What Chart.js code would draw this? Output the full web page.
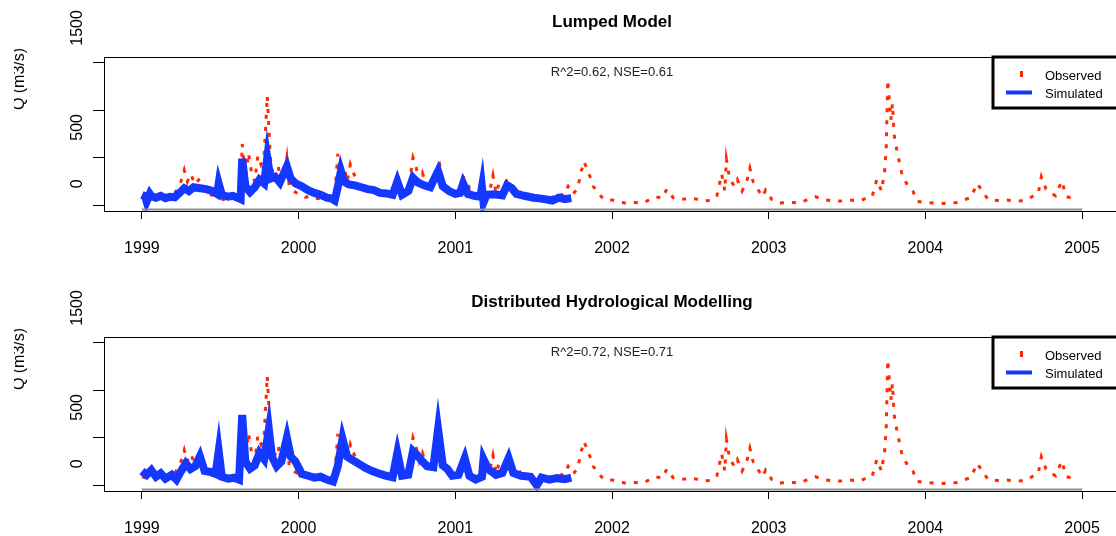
<!DOCTYPE html>
<html>
<head>
<meta charset="utf-8">
<script src="https://cdn.jsdelivr.net/npm/chart.js@4.4.1/dist/chart.umd.min.js"></script>
<style>
html, body { margin: 0; padding: 0; background: #fff; overflow: hidden; width: 1116px; height: 536px; }
.panel { position: absolute; left: 0; width: 1124px; height: 280px; }
</style>
</head>
<body>
<div class="panel" style="top:0"><canvas id="lumped" width="1124" height="280"></canvas></div>
<div class="panel" style="top:280px"><canvas id="distributed" width="1124" height="280"></canvas></div>
<script>
// Axes
const xTicks = [1999, 2000, 2001, 2002, 2003, 2004, 2005];
const yTicks = [0, 500, 1000, 1500];
const yTickLabels = ["0", "500", "", "1500"];

// Observed discharge (decimal year, m3/s)
const obsT = [1999.00,1999.04,1999.08,1999.12,1999.16,1999.20,1999.24,1999.27,1999.29,1999.31,1999.34,1999.37,1999.40,1999.44,1999.48,1999.52,1999.56,1999.60,1999.63,1999.64,1999.66,1999.68,1999.70,1999.72,1999.74,1999.76,1999.78,1999.80,1999.82,1999.84,1999.87,1999.89,1999.91,1999.925,1999.94,1999.97,
  2000.00,2000.04,2000.08,2000.12,2000.16,2000.20,2000.23,2000.25,2000.27,2000.29,2000.31,2000.33,2000.36,2000.39,2000.42,2000.45,2000.48,2000.52,2000.56,2000.60,2000.63,2000.66,2000.70,2000.73,2000.75,2000.77,2000.79,2000.82,2000.85,2000.88,2000.90,2000.93,2000.96,
  2001.00,2001.03,2001.05,2001.07,2001.10,2001.13,2001.16,2001.19,2001.22,2001.24,2001.26,2001.28,2001.30,2001.33,2001.36,2001.40,2001.43,2001.47,2001.51,2001.55,2001.58,2001.62,2001.66,2001.69,2001.72,2001.75,2001.78,2001.80,2001.82,2001.84,2001.86,2001.88,2001.91,2001.95,
  2002.00,2002.04,2002.08,2002.14,2002.20,2002.24,2002.28,2002.32,2002.35,2002.39,2002.44,2002.49,2002.54,2002.58,2002.63,2002.67,2002.70,2002.72,2002.73,2002.75,2002.78,2002.80,2002.83,2002.86,2002.88,2002.90,2002.93,2002.96,2002.98,
  2003.02,2003.07,2003.14,2003.20,2003.26,2003.30,2003.35,2003.40,2003.46,2003.52,2003.58,2003.63,2003.66,2003.69,2003.72,2003.74,2003.75,2003.76,2003.77,2003.78,2003.79,2003.80,2003.81,2003.83,2003.85,2003.87,2003.89,2003.92,2003.95,
  2004.00,2004.05,2004.12,2004.20,2004.25,2004.29,2004.33,2004.36,2004.40,2004.46,2004.52,2004.58,2004.64,2004.69,2004.72,2004.74,2004.77,2004.80,2004.83,2004.87,2004.90,2004.95];
const obsQ = [90,70,95,60,85,110,200,370,250,330,220,285,160,110,95,60,90,70,120,645,300,550,340,250,520,430,520,1150,500,280,410,200,340,500,200,150,
  115,85,95,70,80,60,90,540,260,400,250,430,300,190,150,200,140,120,125,130,315,110,150,500,400,250,340,180,150,390,430,200,125,
  120,110,300,270,140,90,60,120,150,315,125,230,140,275,150,120,160,100,80,70,60,90,130,100,200,120,170,330,460,390,300,200,130,60,
  55,40,25,30,25,60,90,75,170,80,60,75,65,45,50,105,330,150,485,290,200,270,150,250,390,250,170,90,160,
  60,25,30,25,70,90,60,50,45,55,45,80,90,270,150,360,600,1320,1100,900,1070,750,645,485,330,260,200,150,40,
  30,25,20,30,60,80,230,160,60,50,55,45,50,100,120,300,170,130,100,255,90,70];

// Simulated, lumped model
const lumpT = [1999.00,1999.02,1999.03,1999.05,1999.06,1999.09,1999.12,1999.15,1999.18,1999.21,1999.24,1999.27,1999.30,1999.33,1999.37,1999.41,1999.45,1999.48,1999.49,1999.51,1999.55,1999.58,1999.61,1999.63,1999.64,1999.66,1999.69,1999.72,1999.75,1999.78,1999.80,1999.82,1999.85,1999.88,1999.925,1999.95,1999.98,
  2000.02,2000.06,2000.10,2000.14,2000.18,2000.21,2000.23,2000.25,2000.27,2000.29,2000.32,2000.36,2000.40,2000.44,2000.48,2000.52,2000.56,2000.60,2000.63,2000.66,2000.70,2000.73,2000.76,2000.80,2000.84,2000.89,2000.92,2000.96,
  2001.00,2001.03,2001.05,2001.08,2001.12,2001.16,2001.17,2001.18,2001.20,2001.25,2001.30,2001.33,2001.36,2001.39,2001.44,2001.50,2001.55,2001.62,2001.66,2001.70,2001.74];
const lumpQ = [110,95,40,120,95,80,100,75,90,85,130,180,150,190,180,170,150,120,230,110,90,100,80,65,490,200,140,190,270,230,500,280,300,240,410,280,230,
  200,160,130,110,80,70,50,190,360,250,220,210,190,170,160,130,125,110,250,110,150,290,240,210,190,360,200,150,
  120,130,230,120,100,90,190,30,110,115,105,210,180,120,100,80,70,50,80,65,75];

// Simulated, distributed model
const distT = [1999.00,1999.03,1999.06,1999.09,1999.12,1999.15,1999.19,1999.22,1999.25,1999.28,1999.31,1999.34,1999.37,1999.40,1999.44,1999.47,1999.49,1999.51,1999.55,1999.59,1999.62,1999.64,1999.66,1999.69,1999.72,1999.75,1999.78,1999.81,1999.83,1999.86,1999.89,1999.925,1999.95,1999.98,
  2000.02,2000.06,2000.10,2000.14,2000.18,2000.22,2000.25,2000.28,2000.31,2000.35,2000.39,2000.43,2000.47,2000.52,2000.56,2000.60,2000.63,2000.66,2000.70,2000.73,2000.75,2000.78,2000.82,2000.86,2000.89,2000.92,2000.95,2000.98,
  2001.02,2001.06,2001.09,2001.13,2001.17,2001.18,2001.21,2001.26,2001.30,2001.34,2001.37,2001.42,2001.48,2001.52,2001.55,2001.60,2001.65,2001.70,2001.74];
const distQ = [150,110,160,90,125,70,110,60,150,230,170,200,305,150,140,120,360,90,70,80,60,740,250,175,210,340,275,590,300,200,250,500,300,250,
  120,100,80,90,60,40,200,490,300,260,220,180,150,120,100,85,340,100,110,360,330,270,200,190,590,210,170,100,
  110,285,100,60,90,275,170,110,130,285,130,100,90,0,80,60,75,65,80];

const obsColor = "#ff2a00";
const simColor = "#1438ff";
const font = '"Liberation Sans", Arial, sans-serif';
Chart.defaults.font.family = font;

function toPoints(t, q) {
  return t.map((x, i) => ({x: x, y: q[i]}));
}

// R style frame, rotated y labels, title, stats and legend
const rPlot = {
  id: "rPlot",
  afterDraw(chart, args, o) {
    const ctx = chart.ctx, a = chart.chartArea;
    const xs = chart.scales.x, ys = chart.scales.y;
    ctx.save();
    ctx.strokeStyle = "#000"; ctx.lineWidth = 1;
    ctx.strokeRect(a.left + 0.5, a.top + 0.5, a.right - a.left, a.bottom - a.top);

    ctx.strokeStyle = "#8c8c8c"; ctx.lineWidth = 2;
    ctx.beginPath();
    ctx.moveTo(xs.getPixelForValue(xTicks[0]), a.bottom - 1.5);
    ctx.lineTo(xs.getPixelForValue(xTicks[xTicks.length - 1]), a.bottom - 1.5);
    ctx.stroke();

    ctx.fillStyle = "#000";
    ctx.font = "16px " + font;
    ctx.textAlign = "left"; ctx.textBaseline = "middle";
    yTicks.forEach((v, i) => {
      if (!yTickLabels[i]) return;
      ctx.save();
      ctx.translate(a.left - 26, ys.getPixelForValue(v) - 17);
      ctx.rotate(-Math.PI / 2);
      ctx.fillText(yTickLabels[i], 0, 0);
      ctx.restore();
    });

    ctx.save();
    ctx.beginPath(); ctx.rect(14, 0, 40, chart.height); ctx.clip();
    ctx.translate(24, 79); ctx.rotate(-Math.PI / 2);
    ctx.textAlign = "center"; ctx.textBaseline = "alphabetic";
    ctx.font = "16px " + font;
    ctx.fillText(o.yTitle, 0, 0);
    ctx.restore();

    ctx.textAlign = "center"; ctx.textBaseline = "middle";
    ctx.font = "bold 17px " + font;
    ctx.fillText(o.title, (a.left + a.right) / 2, 22);
    ctx.font = "13px " + font;
    ctx.fillStyle = "#222";
    ctx.fillText(o.stats, (a.left + a.right) / 2, a.top + 15);

    const lx = a.right - 127, ly = a.top, lh = 51;
    ctx.fillStyle = "#fff";
    ctx.fillRect(lx, ly, a.right - lx, lh);
    ctx.strokeStyle = "#000"; ctx.lineWidth = 3;
    ctx.strokeRect(lx, ly, a.right - lx + 3, lh);
    chart.data.datasets.forEach((ds, i) => {
      const cy = ly + 18 + i * 18.5;
      if (ds.borderDash && ds.borderDash.length) {
        ctx.fillStyle = ds.borderColor;
        ctx.fillRect(lx + 27, cy - 4, 3, 6);
      } else {
        ctx.strokeStyle = ds.borderColor; ctx.lineWidth = 4;
        ctx.beginPath(); ctx.moveTo(lx + 13, cy - 1); ctx.lineTo(lx + 39, cy - 1); ctx.stroke();
      }
      ctx.fillStyle = "#000";
      ctx.font = "13px " + font;
      ctx.textAlign = "left"; ctx.textBaseline = "middle";
      ctx.fillText(ds.label, lx + 52, cy + 1);
    });
    ctx.restore();
  }
};

function makePanel(id, title, stats, simT, simQ) {
  return new Chart(document.getElementById(id), {
    type: "line",
    data: {
      datasets: [
        {label: "Observed", data: toPoints(obsT, obsQ), borderColor: obsColor, borderWidth: 3,
         borderDash: [4, 8], pointRadius: 0, tension: 0, order: 1},
        {label: "Simulated", data: toPoints(simT, simQ), borderColor: simColor, borderWidth: 8,
         borderJoinStyle: "miter", pointRadius: 0, tension: 0, order: 0}
      ]
    },
    options: {
      responsive: false,
      animation: false,
      devicePixelRatio: 1,
      layout: {padding: {top: 57, left: 0, right: 4, bottom: 0}},
      plugins: {
        legend: {display: false},
        tooltip: {enabled: false},
        rPlot: {title: title, stats: stats, yTitle: "Q (m3/s)"}
      },
      scales: {
        x: {
          type: "linear", min: 1998.758, max: 2005.242,
          afterBuildTicks: s => { s.ticks = xTicks.map(v => ({value: v})); },
          afterFit: s => { s.height = 69; },
          grid: {drawOnChartArea: false, drawTicks: true, tickLength: 8, color: "#000"},
          border: {display: false},
          ticks: {color: "#000", font: {size: 16}, padding: 20, maxRotation: 0, callback: v => String(v)}
        },
        y: {
          min: -60, max: 1560,
          afterBuildTicks: s => { s.ticks = yTicks.map(v => ({value: v})); },
          afterFit: s => { s.width = 104; },
          grid: {drawOnChartArea: false, drawTicks: true, tickLength: 11, color: "#000"},
          border: {display: false},
          ticks: {display: false}
        }
      }
    },
    plugins: [rPlot]
  });
}

makePanel("lumped", "Lumped Model", "R^2=0.62, NSE=0.61", lumpT, lumpQ);
makePanel("distributed", "Distributed Hydrological Modelling", "R^2=0.72, NSE=0.71", distT, distQ);
</script>
</body>
</html>
